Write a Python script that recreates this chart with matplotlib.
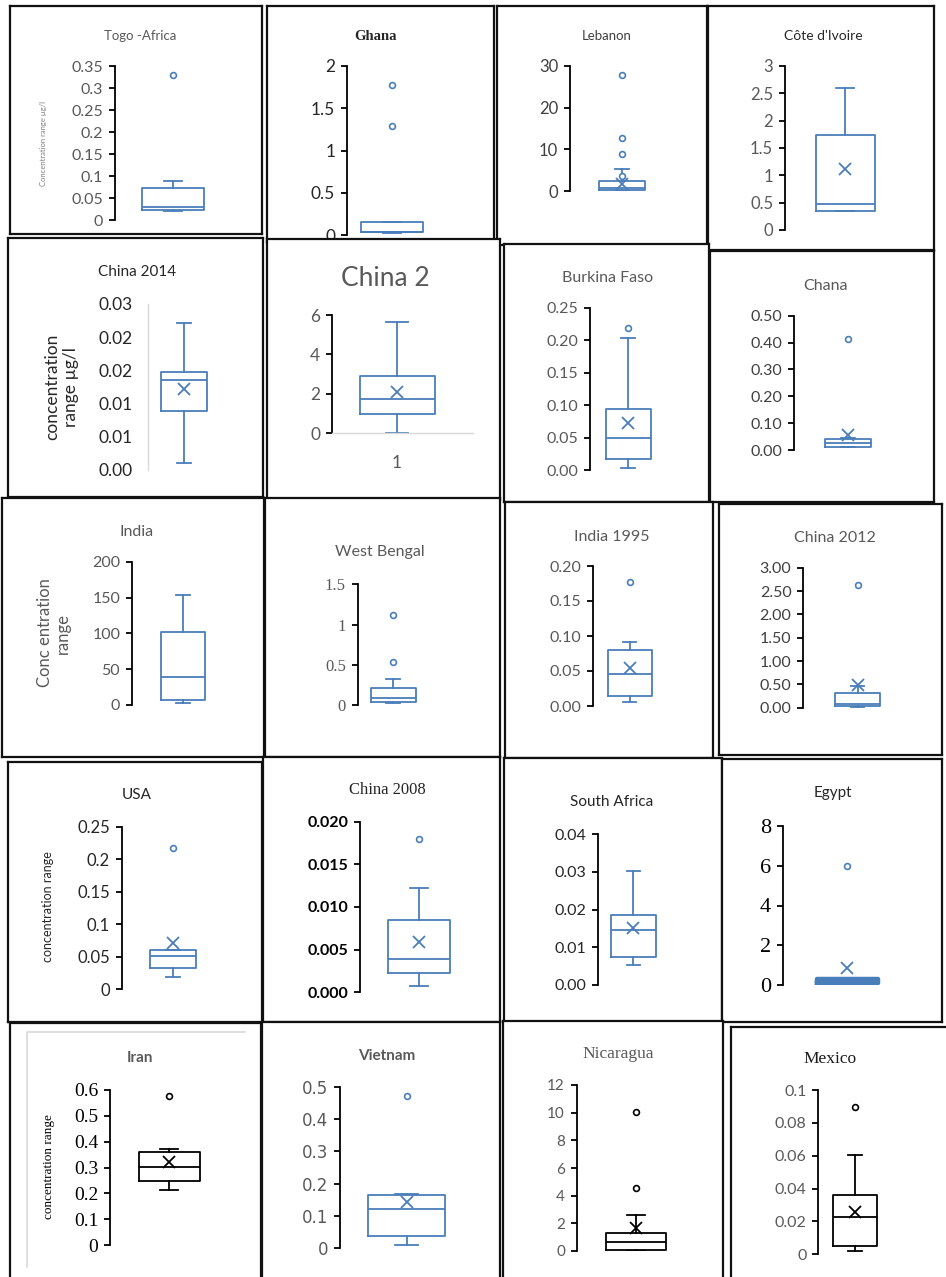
import matplotlib
matplotlib.use("Agg")
import matplotlib.pyplot as plt
from matplotlib.lines import Line2D
from matplotlib.ticker import FuncFormatter
import numpy as np

# box plot summary of concentration per study (one panel each)
titles = ["Togo -Africa", "Ghana", "Lebanon", "Côte d'Ivoire",
          "China 2014", "China 2", "Burkina Faso", "Chana",
          "India", "West Bengal", "India 1995", "China 2012",
          "USA", "China 2008", "South Africa", "Egypt",
          "Iran", "Vietnam", "Nicaragua", "Mexico"]
y_max = [0.35, 2, 30, 3, 0.03, 6, 0.25, 0.5, 200, 1.5,
         0.2, 3, 0.25, 0.02, 0.04, 8, 0.6, 0.5, 12, 0.1]
y_step = [0.05, 0.5, 10, 0.5, 0.006, 2, 0.05, 0.1, 50, 0.5,
          0.05, 0.5, 0.05, 0.005, 0.01, 2, 0.1, 0.1, 2, 0.02]
whislo = [0.021, 0.02, 0.0, 0.353, 0.0012, 0.0, 0.003, 0.012, 2.3, 0.02,
          0.006, 0.02, 0.0195, 0.00078, 0.0053, 0.04, 0.213, 0.01, 0.0, 0.002]
q1 = [0.022, 0.032, 0.25, 0.353, 0.0107, 0.97, 0.017, 0.012, 7, 0.041,
      0.0147, 0.04, 0.032, 0.00223, 0.0075, 0.1, 0.249, 0.039, 0.07, 0.005]
med = [0.029, 0.035, 0.8, 0.476, 0.0163, 1.71, 0.05, 0.025, 39.5, 0.083,
       0.046, 0.086, 0.051, 0.00387, 0.0146, 0.2, 0.303, 0.1215, 0.67, 0.0229]
q3 = [0.072, 0.157, 2.5, 1.74, 0.0178, 2.9, 0.094, 0.041, 101.4, 0.215,
      0.080, 0.32, 0.0604, 0.00847, 0.0186, 0.3, 0.361, 0.165, 1.33, 0.0361]
whishi = [0.089, 0.157, 5.2, 2.6, 0.0265, 5.63, 0.203, 0.045, 153.5, 0.32,
          0.092, 0.47, 0.0604, 0.0122, 0.0303, 0.3, 0.37, 0.168, 2.58, 0.0604]
means = [None, None, 1.8, 1.11, 0.0146, 2.1, 0.073, 0.056, None, None,
         0.055, 0.49, 0.0707, 0.00586, 0.015, 0.84, 0.322, 0.144, 1.64, 0.026]
fliers = [[0.33], [1.78, 1.29], [27.8, 12.8, 9.0, 3.7], [], [], [], [0.218], [0.412],
          [], [1.12, 0.53], [0.177], [2.63], [0.218], [0.018], [], [6.0],
          [0.578], [0.472], [10.07, 4.53], [0.0898]]

W, H = 946, 1277
BLUE = "#4a7ebb"
SANS = "Lato"
SERIF = "Liberation Serif"

# panel frames in pixels: left, top, right, bottom
frames = [(10, 6, 262, 234), (267, 6, 494, 242), (497, 6, 707, 245), (708, 6, 934, 250),
          (8, 238, 263, 497), (267, 239, 500, 500), (504, 244, 709, 502), (710, 251, 934, 502),
          (2, 498, 264, 757), (265, 498, 500, 757), (505, 502, 713, 758), (719, 504, 942, 755),
          (8, 762, 262, 1022), (263, 757, 500, 1022), (504, 758, 722, 1022), (722, 759, 942, 1022),
          (10, 1023, 261, 1290), (262, 1022, 500, 1290), (503, 1021, 723, 1290), (731, 1027, 960, 1290)]
# y axis x, y of zero, y of top, box centre, box width
axpos = [(115, 220, 66, 173, 62), (347, 235, 66, 392, 62), (570, 191, 66, 622, 46), (785, 230, 66, 845, 59),
         (148, 470, 304, 184, 46), (332, 433, 315, 397, 75), (590, 470, 307.7, 628, 45), (794, 450, 315.7, 848, 46),
         (132, 705, 561.7, 183, 44), (357.7, 705, 584.3, 393, 45), (592.7, 706, 566, 629.5, 44), (803.3, 707.7, 567.7, 857.5, 45),
         (121.7, 989.3, 826.7, 173, 46), (360, 992.3, 821.7, 419, 62), (597.7, 985, 834.3, 633.3, 45), (782.7, 985, 826, 847, 61),
         (110, 1245, 1090, 169, 61), (340, 1248.3, 1086.7, 406.7, 76.7), (576.7, 1251, 1085, 635.7, 60), (818.3, 1254.3, 1090, 855, 44.7)]
title_xy = [(140, 36), (375, 36), (607, 36), (823, 36),
            (137, 272), (385, 278), (608, 278), (825, 286),
            (137, 532), (380, 552), (612, 537), (835, 538),
            (137, 795), (387, 790), (612, 802), (833, 793),
            (140, 1058), (387, 1056), (618, 1054), (830, 1059)]
# title: size, colour, family, weight
title_style = [(9.5, "#595959", SANS, "normal"), (10.5, "#262626", SERIF, "bold"),
               (9.5, "#404040", SANS, "normal"), (10, "#262626", SANS, "normal"),
               (11, "#262626", SANS, "normal"), (19, "#595959", SANS, "normal"),
               (11.5, "#595959", SANS, "normal"), (11.5, "#595959", SANS, "normal"),
               (11.5, "#595959", SANS, "normal"), (11.5, "#595959", SANS, "normal"),
               (11.5, "#595959", SANS, "normal"), (11.5, "#595959", SANS, "normal"),
               (11, "#262626", SANS, "normal"), (12, "#262626", SERIF, "normal"),
               (11, "#262626", SANS, "normal"), (11, "#262626", SANS, "normal"),
               (11, "#595959", SANS, "bold"), (11, "#595959", SANS, "bold"),
               (12.5, "#595959", SERIF, "normal"), (12.5, "#1a1a1a", SERIF, "normal")]
# tick labels: size, colour, family, weight, format
tick_style = [(11.5, "#595959", SANS, "normal", "%g"), (12.5, "#262626", SANS, "normal", "%g"),
              (12, "#404040", SANS, "normal", "%g"), (12, "#595959", SANS, "normal", "%g"),
              (12.5, "#262626", SANS, "normal", "%.2f"), (12.5, "#595959", SANS, "normal", "%g"),
              (11.5, "#595959", SANS, "normal", "%.2f"), (11.5, "#404040", SANS, "normal", "%.2f"),
              (11.5, "#595959", SANS, "normal", "%g"), (12, "#595959", SERIF, "normal", "%g"),
              (11.5, "#595959", SANS, "normal", "%.2f"), (11.5, "#404040", SANS, "normal", "%.2f"),
              (12, "#262626", SANS, "normal", "%g"), (11.5, "#000000", SANS, "bold", "%.3f"),
              (11.5, "#262626", SANS, "normal", "%.2f"), (16, "#000000", SERIF, "normal", "%g"),
              (14, "#000000", SERIF, "normal", "%g"), (12, "#595959", "DejaVu Sans", "normal", "%g"),
              (11, "#595959", SANS, "normal", "%g"), (11.5, "#595959", SANS, "normal", "%g")]
black_boxes = {16, 18, 19}

fig = plt.figure(figsize=(W / 100, H / 100), dpi=100)
fig.patch.set_facecolor("white")


def px_axes(x0, y0, x1, y1):
    return fig.add_axes([x0 / W, 1 - y1 / H, (x1 - x0) / W, (y1 - y0) / H])


for i in range(len(titles)):
    fx0, fy0, fx1, fy1 = frames[i]
    fr = px_axes(fx0, fy0, fx1, fy1)
    fr.set_xticks([])
    fr.set_yticks([])
    fr.set_facecolor("white")
    for s in fr.spines.values():
        s.set_linewidth(1.6)
        s.set_color("#111111")

    ax_x, yz, yt, bc, bw = axpos[i]
    right = 473 if i == 5 else bc + (bc - ax_x)
    ax = px_axes(ax_x, yt, right, yz)
    ax.patch.set_alpha(0)
    ax.set_xlim(0, right - ax_x)
    ax.set_ylim(0, y_max[i])

    col = "black" if i in black_boxes else BLUE
    lw = 3.2 if i == 15 else 1.3
    st = dict(whislo=whislo[i], q1=q1[i], med=med[i], q3=q3[i], whishi=whishi[i],
              fliers=fliers[i])
    if means[i] is not None:
        st["mean"] = means[i]
    ax.bxp([st], positions=[bc - ax_x], widths=[bw], capwidths=[bw * 0.3],
           showmeans=means[i] is not None,
           boxprops=dict(color=col, linewidth=lw),
           medianprops=dict(color=col, linewidth=lw),
           whiskerprops=dict(color=col, linewidth=1.3),
           capprops=dict(color=col, linewidth=1.3),
           flierprops=dict(marker="o", markersize=4.2, markerfacecolor="white",
                           markeredgecolor=col, markeredgewidth=1.2, clip_on=False),
           meanprops=dict(marker="x", markersize=8, markeredgecolor=col,
                          markeredgewidth=1.3, clip_on=False),
           manage_ticks=False)

    nt = int(round(y_max[i] / y_step[i]))
    ax.set_yticks(np.linspace(0, y_max[i], nt + 1))
    size, tcol, fam, wt, fmt = tick_style[i]
    ax.yaxis.set_major_formatter(FuncFormatter(lambda v, p, f=fmt: f % v))
    for lab in ax.get_yticklabels():
        lab.set_fontsize(size)
        lab.set_color(tcol)
        lab.set_family(fam)
        lab.set_fontweight(wt)
    for side in ("top", "right", "bottom"):
        ax.spines[side].set_visible(False)
    ax.spines["left"].set_linewidth(1.3)
    ax.spines["left"].set_color("black")
    ax.tick_params(axis="y", direction="out", length=4.5, width=1.3, color="black", pad=4)
    ax.set_xticks([])

    if i == 4:
        # light axis line, no tick marks
        ax.spines["left"].set_color("#d9d9d9")
        ax.spines["left"].set_linewidth(1.0)
        ax.tick_params(axis="y", length=0, pad=11)
    if i == 5:
        ax.spines["bottom"].set_visible(True)
        ax.spines["bottom"].set_color("#d9d9d9")
        ax.spines["bottom"].set_linewidth(1.0)
        ax.set_xticks([bc - ax_x])
        ax.set_xticklabels(["1"], fontsize=12.5, color="#595959", family=SANS)
        ax.tick_params(axis="x", length=0, pad=16)

    tx, ty = title_xy[i]
    ts, tc, tf, tw = title_style[i]
    fig.text(tx / W, 1 - ty / H, titles[i], fontsize=ts, color=tc, family=tf,
             fontweight=tw, ha="center", va="center")

    if i == 16:
        # faint inner chart border
        fig.add_artist(Line2D([26.7 / W, 26.7 / W, 245 / W],
                              [1 - 1266.7 / H, 1 - 1031.7 / H, 1 - 1031.7 / H],
                              color="#d9d9d9", linewidth=1.2))

# axis titles
fig.text(43 / W, 1 - 143 / H, "Concentration range µg/l", rotation=90, fontsize=5.5,
         color="#7f7f7f", family=SANS, ha="center", va="center")
fig.text(62 / W, 1 - 387 / H, "concentration\nrange µg/l", rotation=90, fontsize=12.5,
         color="#262626", family=SANS, ha="center", va="center", linespacing=1.2)
fig.text(54 / W, 1 - 633 / H, "Conc entration\nrange", rotation=90, fontsize=12,
         color="#595959", family=SANS, ha="center", va="center", linespacing=1.2)
fig.text(48 / W, 1 - 907 / H, "concentration range", rotation=90, fontsize=9,
         color="#262626", family=SANS, ha="center", va="center")
fig.text(49 / W, 1 - 1167 / H, "concentration range", rotation=90, fontsize=9.5,
         color="black", family=SERIF, ha="center", va="center")

fig.savefig("out.png", dpi=100)
